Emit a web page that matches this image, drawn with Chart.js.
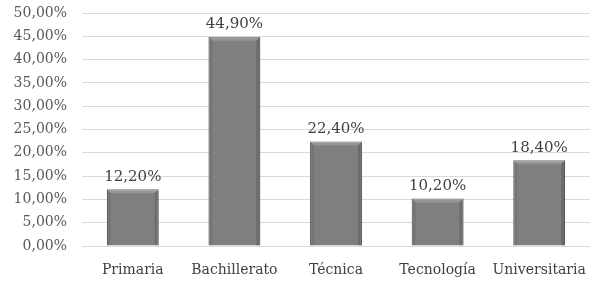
<!DOCTYPE html>
<html>
<head>
<meta charset="utf-8">
<script src="https://cdn.jsdelivr.net/npm/chart.js"></script>
<style>
  html, body { margin: 0; padding: 0; background: #fff; }
  #wrap { width: 592px; height: 281px; }
</style>
</head>
<body>
<div id="wrap"><canvas id="chart" width="592" height="281"></canvas></div>
<script>
const categories = ["Primaria", "Bachillerato", "Técnica", "Tecnología", "Universitaria"];
const values = [12.2, 44.9, 22.4, 10.2, 18.4];
const yTicks = [0, 5, 10, 15, 20, 25, 30, 35, 40, 45, 50];

function pct(v) {
  return v.toFixed(2).replace(".", ",") + "%";
}

// value labels above each bar
const valueLabels = {
  id: "valueLabels",
  afterDatasetsDraw(chart) {
    const ctx = chart.ctx;
    const meta = chart.getDatasetMeta(0);
    ctx.save();
    ctx.font = "15px 'DejaVu Serif'";
    ctx.fillStyle = "#404040";
    ctx.textAlign = "center";
    ctx.textBaseline = "bottom";
    meta.data.forEach((bar, i) => {
      ctx.fillText(pct(values[i]), bar.x, bar.y - 5);
    });
    ctx.restore();
  }
};

// shaded bevel look on the bars
const bevel = {
  id: "bevel",
  afterDatasetsDraw(chart) {
    const ctx = chart.ctx;
    const meta = chart.getDatasetMeta(0);
    ctx.save();
    meta.data.forEach(bar => {
      const l = bar.x - bar.width / 2, r = bar.x + bar.width / 2;
      const t = bar.y, b = bar.base;
      const e = 4;
      ctx.fillStyle = "rgba(255,255,255,0.18)";
      ctx.beginPath();
      ctx.moveTo(l, t); ctx.lineTo(r, t); ctx.lineTo(r - e, t + e); ctx.lineTo(l + e, t + e);
      ctx.fill();
      ctx.fillStyle = "rgba(0,0,0,0.15)";
      ctx.beginPath();
      ctx.moveTo(r, t); ctx.lineTo(r, b); ctx.lineTo(r - e, b); ctx.lineTo(r - e, t + e);
      ctx.fill();
      ctx.fillStyle = "rgba(0,0,0,0.08)";
      ctx.beginPath();
      ctx.moveTo(l, t); ctx.lineTo(l + e, t + e); ctx.lineTo(l + e, b); ctx.lineTo(l, b);
      ctx.fill();
    });
    ctx.restore();
  }
};

new Chart(document.getElementById("chart"), {
  type: "bar",
  data: {
    labels: categories,
    datasets: [{
      data: values,
      backgroundColor: "#7f7f7f",
      borderColor: "#555555",
      borderWidth: 1,
      categoryPercentage: 1,
      barPercentage: 0.51
    }]
  },
  options: {
    responsive: false,
    animation: false,
    layout: { padding: { top: 13, right: 2, bottom: 0, left: 13 } },
    plugins: { legend: { display: false }, tooltip: { enabled: false } },
    scales: {
      x: {
        afterFit(axis) { axis.height = 35; axis.paddingLeft = 0; axis.paddingRight = 0; },
        grid: { display: false },
        border: { display: false },
        ticks: {
          color: "#404040",
          font: { family: "DejaVu Serif", size: 14 },
          padding: 8,
          maxRotation: 0,
          minRotation: 0,
          autoSkip: false
        }
      },
      y: {
        min: 0,
        max: 50,
        afterBuildTicks(axis) { axis.ticks = yTicks.map(v => ({ value: v })); },
        afterFit(axis) { axis.width = 69; axis.paddingTop = 0; axis.paddingBottom = 0; },
        grid: { color: "#d9d9d9", lineWidth: 1, drawTicks: false },
        border: { display: false },
        ticks: {
          color: "#595959",
          font: { family: "DejaVu Serif", size: 14 },
          padding: 15,
          autoSkip: false,
          callback: v => pct(v)
        }
      }
    }
  },
  plugins: [bevel, valueLabels]
});
</script>
</body>
</html>
